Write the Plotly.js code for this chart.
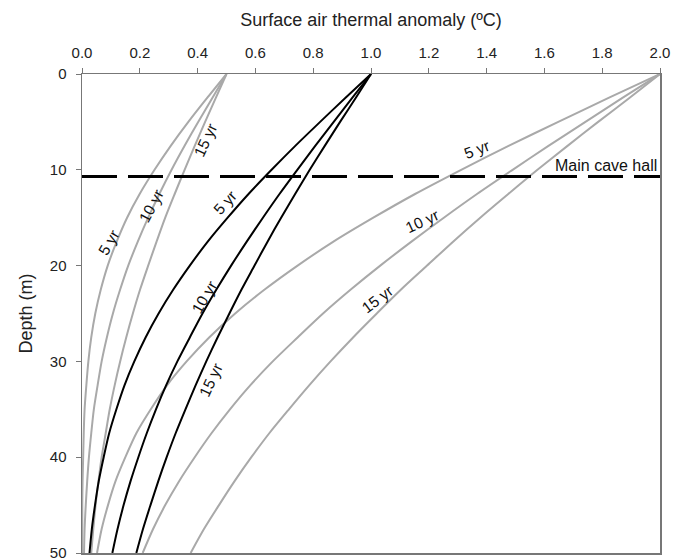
<!DOCTYPE html>
<html>
<head>
<meta charset="utf-8">
<script src="https://cdn.plot.ly/plotly-3.0.1.min.js"></script>
<style>
  html, body { margin: 0; padding: 0; background: #ffffff; }
  #chart { width: 684px; height: 560px; }
</style>
</head>
<body>
<div id="chart"></div>
<script>
// Depth (m) at which each profile was read
const depth = [0, 2.5, 5, 7.5, 10, 12.5, 15, 17.5, 20, 22.5, 25, 27.5, 30, 32.5, 35, 37.5, 40, 42.5, 45, 47.5, 50];

// Surface anomaly 0.5 ºC (grey)
const a05_5yr  = [0.500, 0.433, 0.368, 0.307, 0.251, 0.200, 0.156, 0.120, 0.089, 0.065, 0.046, 0.032, 0.022, 0.015, 0.009, 0.006, 0.004, 0.002, 0.001, 0.001, 0.000];
const a05_10yr = [0.500, 0.451, 0.402, 0.355, 0.310, 0.268, 0.229, 0.193, 0.160, 0.132, 0.107, 0.086, 0.068, 0.054, 0.041, 0.032, 0.024, 0.018, 0.013, 0.009, 0.007];
const a05_15yr = [0.500, 0.463, 0.426, 0.390, 0.355, 0.321, 0.288, 0.258, 0.229, 0.201, 0.176, 0.153, 0.132, 0.113, 0.096, 0.082, 0.068, 0.057, 0.047, 0.039, 0.032];

// Surface anomaly 1.0 ºC (black)
const a10_5yr  = [1.000, 0.911, 0.824, 0.738, 0.656, 0.577, 0.504, 0.435, 0.373, 0.316, 0.265, 0.220, 0.181, 0.147, 0.119, 0.094, 0.075, 0.058, 0.045, 0.034, 0.026];
const a10_10yr = [1.000, 0.935, 0.871, 0.807, 0.745, 0.684, 0.626, 0.570, 0.516, 0.465, 0.417, 0.373, 0.330, 0.291, 0.256, 0.224, 0.195, 0.168, 0.144, 0.123, 0.105];
const a10_15yr = [1.000, 0.947, 0.893, 0.840, 0.788, 0.738, 0.689, 0.642, 0.597, 0.552, 0.510, 0.469, 0.430, 0.393, 0.358, 0.324, 0.293, 0.264, 0.237, 0.211, 0.188];

// Surface anomaly 2.0 ºC (grey)
const a20_5yr  = [2.000, 1.822, 1.648, 1.476, 1.312, 1.154, 1.008, 0.870, 0.746, 0.632, 0.530, 0.440, 0.362, 0.294, 0.238, 0.188, 0.150, 0.116, 0.090, 0.068, 0.052];
const a20_10yr = [2.000, 1.870, 1.742, 1.614, 1.490, 1.368, 1.252, 1.140, 1.032, 0.930, 0.834, 0.746, 0.660, 0.582, 0.512, 0.448, 0.390, 0.336, 0.288, 0.246, 0.210];
const a20_15yr = [2.000, 1.894, 1.786, 1.680, 1.576, 1.476, 1.378, 1.284, 1.194, 1.104, 1.020, 0.938, 0.860, 0.786, 0.716, 0.648, 0.586, 0.528, 0.474, 0.422, 0.376];

// Main cave hall depth line
const caveX = [0, 2];
const caveDepth = [10.7, 10.7];
const caveLabel = 'Main cave hall';

const xTicks = [0, 0.2, 0.4, 0.6, 0.8, 1.0, 1.2, 1.4, 1.6, 1.8, 2.0];
const yTicks = [0, 10, 20, 30, 40, 50];

const GREY = '#a9a9a9';
const BLACK = '#000000';
const FONT = 'Liberation Sans, Arial, sans-serif';

function profile(vals, color) {
  return {
    x: vals, y: depth, type: 'scatter', mode: 'lines',
    line: { color: color, width: 2, shape: 'spline', smoothing: 0.8 },
    hoverinfo: 'skip', showlegend: false
  };
}

const data = [
  profile(a05_5yr, GREY), profile(a05_10yr, GREY), profile(a05_15yr, GREY),
  profile(a20_5yr, GREY), profile(a20_10yr, GREY), profile(a20_15yr, GREY),
  profile(a10_5yr, BLACK), profile(a10_10yr, BLACK), profile(a10_15yr, BLACK),
  {
    x: caveX, y: caveDepth, type: 'scatter', mode: 'lines',
    line: { color: BLACK, width: 3, dash: '35px,11px' },
    hoverinfo: 'skip', showlegend: false
  }
];

function lab(text, x, y, angle) {
  return {
    text: text, x: x, y: y, xref: 'x', yref: 'y', showarrow: false,
    textangle: angle, font: { family: FONT, size: 15.5, color: '#111' },
    xanchor: 'center', yanchor: 'middle'
  };
}

const annotations = [
  lab('5 yr', 0.093, 17.6, -60),
  lab('10 yr', 0.238, 13.8, -62),
  lab('15 yr', 0.426, 6.9, -65),
  lab('5 yr', 0.495, 13.4, -48),
  lab('10 yr', 0.422, 23.3, -60),
  lab('15 yr', 0.445, 32.0, -65),
  lab('5 yr', 1.366, 7.9, -21),
  lab('10 yr', 1.175, 15.4, -25),
  lab('15 yr', 1.02, 23.5, -37),
  {
    text: caveLabel, x: 2.0, y: caveDepth[0], xref: 'x', yref: 'y',
    showarrow: false, xanchor: 'right', yanchor: 'bottom', xshift: -1, yshift: 1,
    font: { family: FONT, size: 16, color: '#111' }
  }
];

const layout = {
  width: 684, height: 560,
  margin: { l: 82, r: 24, t: 74, b: 7, pad: 0 },
  paper_bgcolor: '#ffffff', plot_bgcolor: '#ffffff',
  font: { family: FONT, size: 15, color: '#222' },
  xaxis: {
    side: 'top', range: [0, 2], tickvals: xTicks, tickformat: '.1f',
    ticks: 'outside', ticklen: 5, tickcolor: '#777', tickwidth: 1,
    ticklabelstandoff: 4,
    showline: true, linecolor: '#777', linewidth: 1.5, mirror: true,
    showgrid: false, zeroline: false,
    tickfont: { family: FONT, size: 15, color: '#222' },
    title: { text: 'Surface air thermal anomaly (ºC)', font: { family: FONT, size: 18, color: '#222' }, standoff: 12 }
  },
  yaxis: {
    range: [50, 0], tickvals: yTicks,
    ticks: 'outside', ticklen: 5, tickcolor: '#777', tickwidth: 1,
    ticklabelstandoff: 6, ticklabeloverflow: 'allow',
    showline: true, linecolor: '#777', linewidth: 1.5, mirror: true,
    showgrid: false, zeroline: false,
    tickfont: { family: FONT, size: 15, color: '#222' },
    title: { text: 'Depth (m)', font: { family: FONT, size: 18, color: '#222' }, standoff: 12 }
  },
  annotations: annotations,
  showlegend: false
};

Plotly.newPlot('chart', data, layout, { displayModeBar: false, staticPlot: true });
</script>
</body>
</html>
